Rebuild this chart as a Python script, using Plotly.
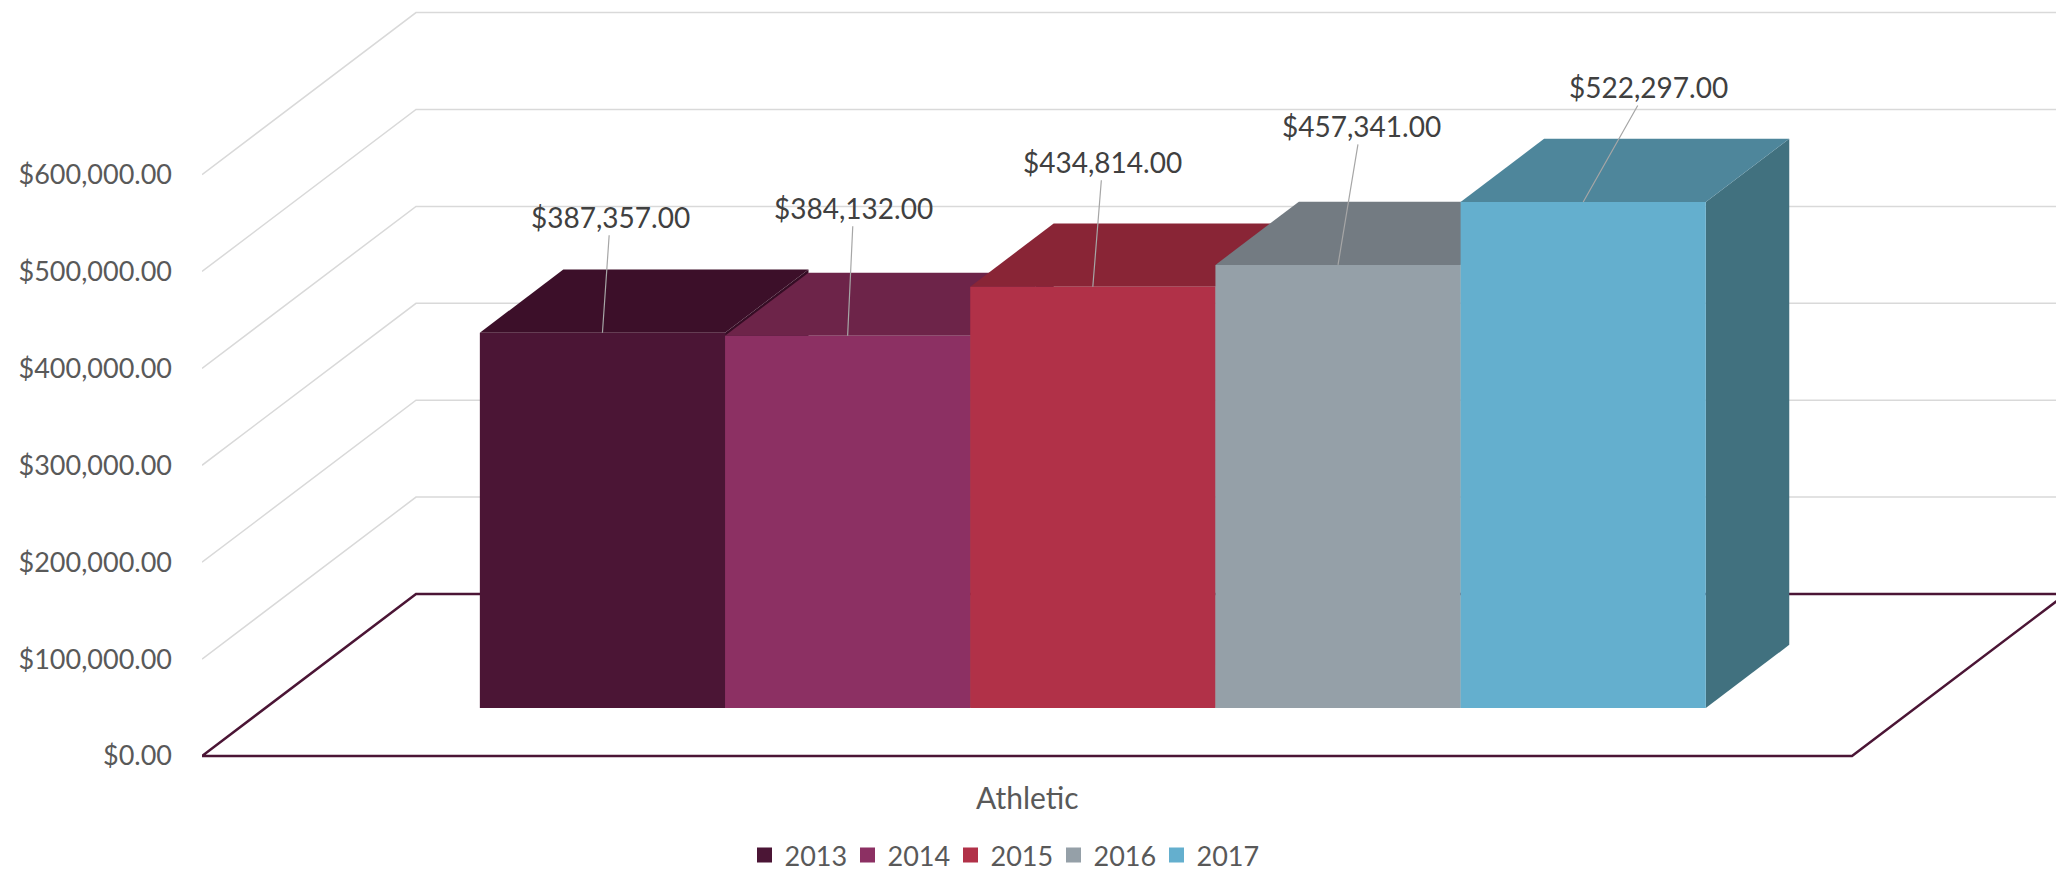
import plotly.graph_objects as go

years = ["2013", "2014", "2015", "2016", "2017"]
revenue = [387357, 384132, 434814, 457341, 522297]
category = "Athletic"
y_ticks = [0, 100000, 200000, 300000, 400000, 500000, 600000]

front_colors = ["#4B1535", "#8C3063", "#B13148", "#95A0A8", "#64AFCE"]
top_colors = ["#3C0F29", "#6D2449", "#892536", "#737B82", "#4E869B"]
side_colors = ["#360D25", "#5E1F40", "#76202F", "#646B71", "#41717F"]

# label offsets (px) from the front-top centre of each bar
label_dx = [8, 6, 10, 23, 65]
label_dy = [-116, -128, -125, -139, -115]

# oblique "3D" geometry, x in floor units (front edge -0.5..0.5), y in dollars
DX = 0.1297          # full floor depth, horizontal
DY = 167200          # full floor depth, vertical
D0, D1 = 0.296, 0.686  # bar depth span
W = 0.1486           # bar width
GAP = 0.13           # floor edge to first bar

font = "Lato, 'Open Sans', sans-serif"
fig = go.Figure()

# walls: left diagonal + back horizontal gridlines
for v in y_ticks[1:]:
    fig.add_trace(go.Scatter(
        x=[-0.5, -0.5 + DX, 0.5 + DX], y=[v, v + DY, v + DY],
        mode="lines", line=dict(color="#D9D9D9", width=1.5),
        hoverinfo="skip", showlegend=False))

# floor
fig.add_trace(go.Scatter(
    x=[-0.5, 0.5, 0.5 + DX, -0.5 + DX, -0.5], y=[0, 0, DY, DY, 0],
    mode="lines", line=dict(color="#4B1535", width=2.5),
    hoverinfo="skip", showlegend=False))

dd = D1 - D0
for i, (yr, v) in enumerate(zip(years, revenue)):
    xl = -0.5 + GAP + i * W + D0 * DX
    xr = xl + W
    b = D0 * DY
    t = b + v
    # side
    fig.add_trace(go.Scatter(
        x=[xr, xr + dd * DX, xr + dd * DX, xr, xr],
        y=[b, b + dd * DY, t + dd * DY, t, b],
        fill="toself", fillcolor=side_colors[i], mode="lines",
        line=dict(width=0, color=side_colors[i]),
        hoverinfo="skip", showlegend=False))
    # top
    fig.add_trace(go.Scatter(
        x=[xl, xr, xr + dd * DX, xl + dd * DX, xl],
        y=[t, t, t + dd * DY, t + dd * DY, t],
        fill="toself", fillcolor=top_colors[i], mode="lines",
        line=dict(width=0, color=top_colors[i]),
        hoverinfo="skip", showlegend=False))
    # front
    fig.add_trace(go.Scatter(
        x=[xl, xr, xr, xl, xl], y=[b, b, t, t, b],
        fill="toself", fillcolor=front_colors[i], mode="lines",
        line=dict(width=0, color=front_colors[i]),
        name=yr, hovertemplate=f"{yr}: ${v:,.2f}<extra></extra>",
        showlegend=False))
    # legend entry
    fig.add_trace(go.Scatter(
        x=[None], y=[None], mode="markers", name=yr,
        marker=dict(symbol="square", size=15, color=front_colors[i])))
    fig.add_annotation(
        x=(xl + xr) / 2, y=t, text=f"${v:,.2f}",
        showarrow=True, arrowhead=0, arrowwidth=1.2, arrowcolor="#A6A6A6",
        ax=label_dx[i], ay=label_dy[i],
        font=dict(family=font, size=28, color="#404040"))

# page body adds an 8px offset, so the figure is 8px smaller than the window
W_FIG, H_FIG, OFF = 2056, 868, 8
fig.add_annotation(
    x=0, xref="x", y=1 - (797 - OFF) / H_FIG, yref="paper", text=category,
    showarrow=False, yanchor="middle",
    font=dict(family=font, size=30, color="#595959"))

k = 96.9 / 100000  # px per dollar
y0 = 756 - OFF     # figure px of the $0 front edge
fig.update_layout(
    width=W_FIG, height=H_FIG,
    margin=dict(l=202 - OFF, r=0, t=0, b=0, autoexpand=False),
    paper_bgcolor="white", plot_bgcolor="white",
    xaxis=dict(range=[-0.5, 0.5 + (2064 - 1852) / 1650], visible=False,
               fixedrange=True),
    yaxis=dict(range=[(y0 - H_FIG) / k, y0 / k], tickvals=y_ticks,
               tickformat="$,.2f", showgrid=False, zeroline=False,
               showline=False, ticklabelstandoff=29, automargin=False,
               tickfont=dict(family=font, size=27, color="#595959")),
    legend=dict(orientation="h", x=(1002 - 202) / 1862, xanchor="center",
                y=-4 / H_FIG, yanchor="bottom", bgcolor="rgba(0,0,0,0)",
                entrywidth=58, entrywidthmode="pixels",
                font=dict(family=font, size=27, color="#595959"),
                itemclick=False),
    showlegend=True,
)

fig.write_html("out.html")
